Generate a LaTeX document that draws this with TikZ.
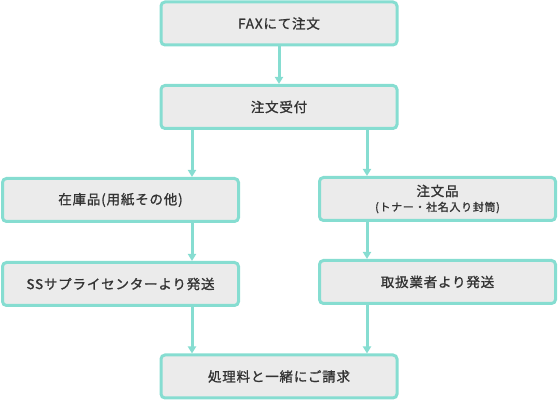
\documentclass[tikz,border=0pt]{standalone}
\usepackage{fontspec}
\setmainfont{Noto Sans CJK JP}
\usetikzlibrary{arrows.meta}
\definecolor{flowline}{HTML}{86DDD1}
\definecolor{flowfill}{HTML}{EBEBEB}
\definecolor{flowtext}{HTML}{333333}
\tikzset{>={Triangle[width=8pt,length=7pt]}}

\begin{document}
\begin{tikzpicture}[x=1pt, y=1pt, inner sep=0pt,
  stepbox/.style={draw=flowline, line width=3pt, fill=flowfill, rounded corners=4pt,
    minimum width=236pt, minimum height=43pt, text=flowtext, align=center,
    font=\fontsize{13.5}{16}\selectfont\addfontfeatures{LetterSpace=6,FakeBold=1.2}},
  flow/.style={draw=flowline, line width=3pt, ->}]
\useasboundingbox (0, 0) rectangle (558, 401);
\node[stepbox] (fax) at (279, 377.5) {FAXにて注文};
\node[stepbox] (order) at (279, 294) {注文受付};
\node[stepbox] (stock) at (120.5, 201) {在庫品(用紙その他)};
\node[stepbox] (goods) at (437.5, 202) {注文品\\[-1pt]{\fontsize{11}{13}\selectfont (トナー・社名入り封筒)}};
\node[stepbox] (supply) at (120.5, 117) {SSサプライセンターより発送};
\node[stepbox] (vendor) at (437.5, 119) {取扱業者より発送};
\node[stepbox] (bill) at (279, 24.5) {処理料と一緒にご請求};
\coordinate (leftdrop) at (192, 0);
\coordinate (rightdrop) at (367, 0);
\draw[flow] (fax) -- (order);
\draw[flow] (order.south -| leftdrop) -- (stock.north -| leftdrop);
\draw[flow] (order.south -| rightdrop) -- (goods.north -| rightdrop);
\draw[flow] (stock.south -| leftdrop) -- (supply.north -| leftdrop);
\draw[flow] (goods.south -| rightdrop) -- (vendor.north -| rightdrop);
\draw[flow] (supply.south -| leftdrop) -- (bill.north -| leftdrop);
\draw[flow] (vendor.south -| rightdrop) -- (bill.north -| rightdrop);
\end{tikzpicture}
\end{document}
